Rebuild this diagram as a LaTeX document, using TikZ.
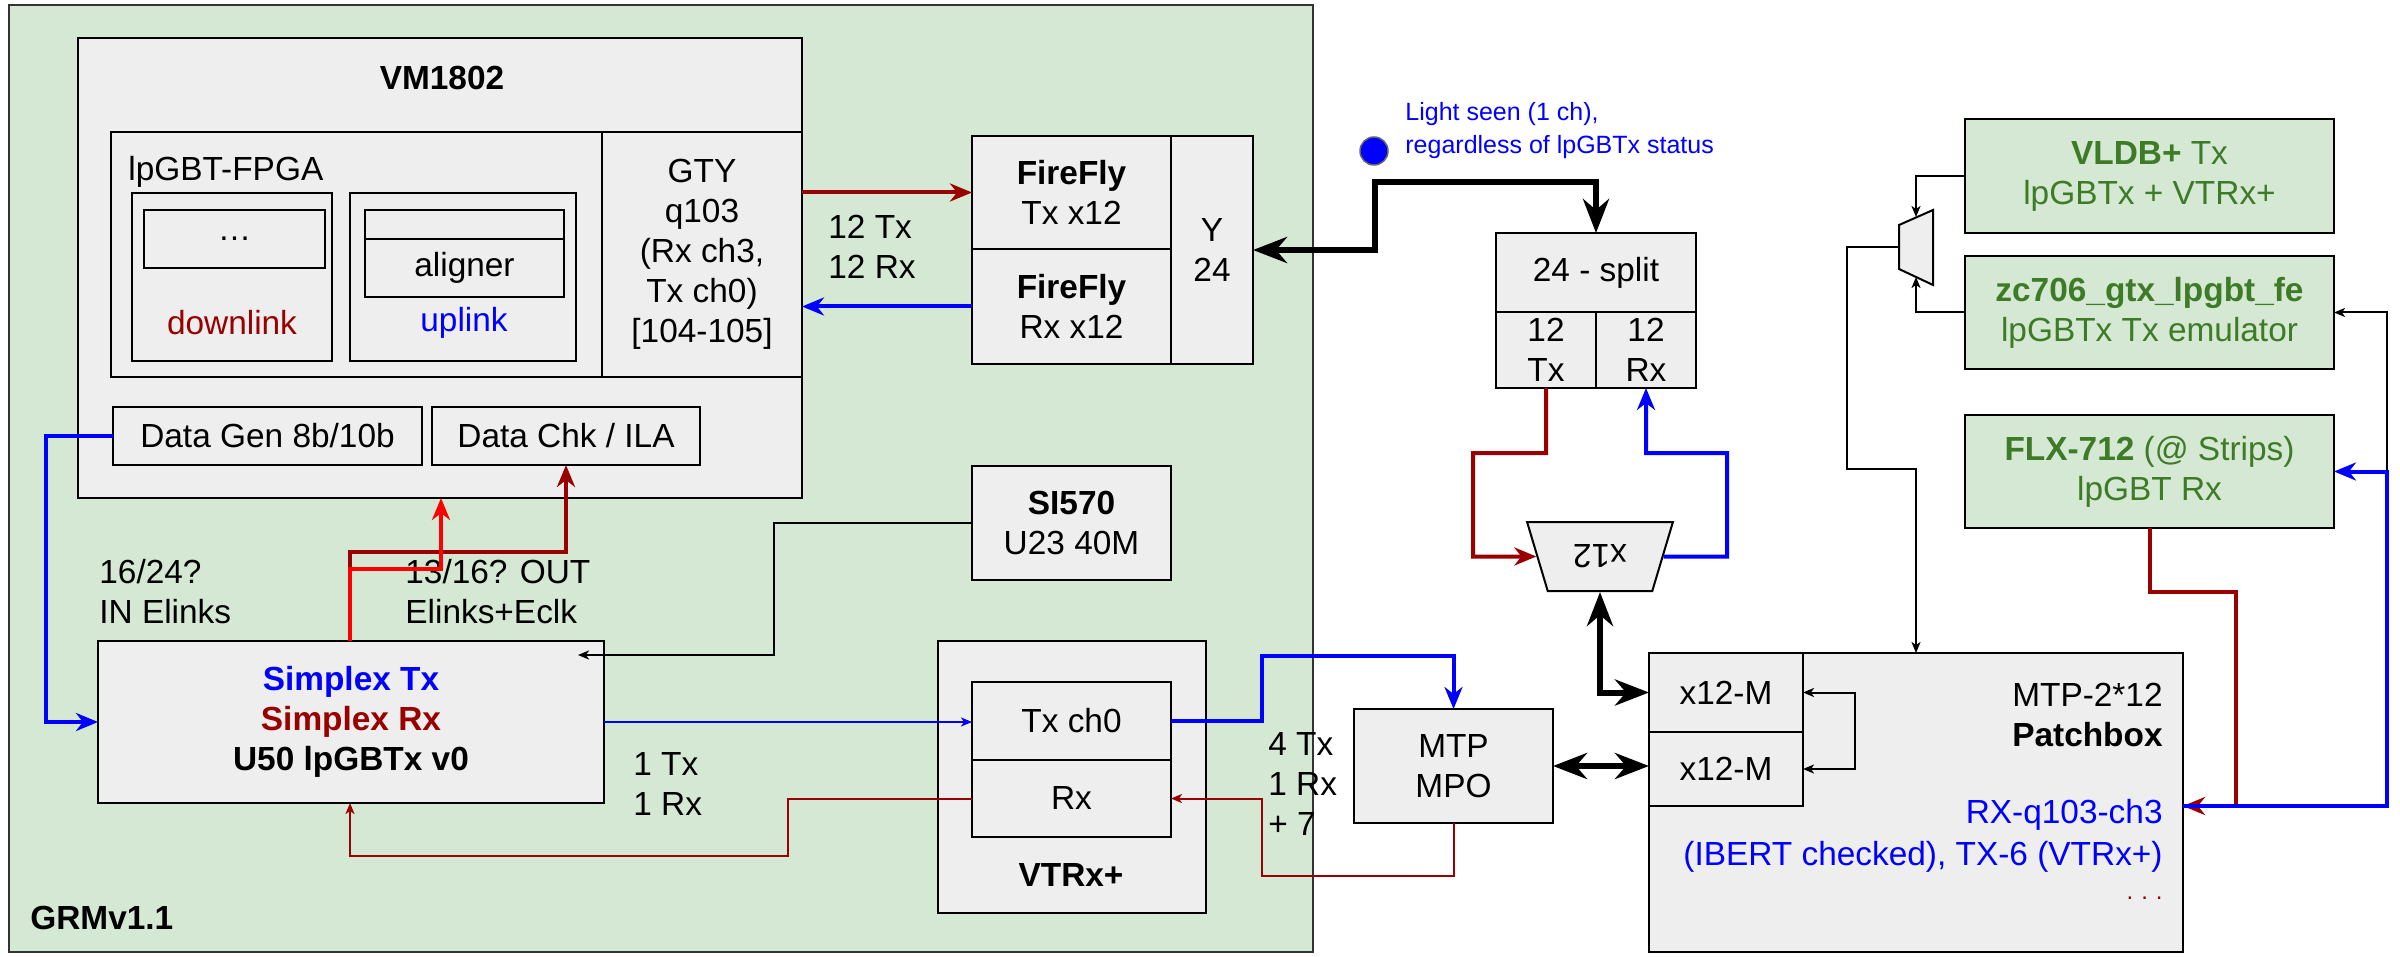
\documentclass[tikz,border=0pt]{standalone}
\usepackage{fontspec}
\setmainfont{Liberation Sans}
\usetikzlibrary{arrows.meta,fit,calc,shapes.geometric}
\definecolor{grmgreen}{HTML}{D5E8D4}
\definecolor{boxgray}{HTML}{EEEEEE}
\definecolor{dred}{HTML}{990000}
\definecolor{bblue}{HTML}{0000FF}
\definecolor{bred}{HTML}{FF0000}
\definecolor{gtext}{HTML}{3E7B27}
\begin{document}
\begin{tikzpicture}[x=0.5pt,y=-0.5pt,
 bx/.style={draw=black, line width=1pt, fill=boxgray, inner sep=0pt, outer sep=0pt},
 gbx/.style={draw=black, line width=1pt, fill=grmgreen, inner sep=0pt, outer sep=0pt},
 txt/.style={font=\fontsize{16.7}{20}\selectfont, align=center, inner sep=0pt},
 smalltxt/.style={font=\fontsize{12.5}{16.5}\selectfont, align=left, inner sep=0pt, text=bblue},
 trap/.style={trapezium, draw=black, line width=1pt, fill=boxgray, trapezium left angle=65.5, trapezium right angle=65.5, trapezium stretches=true, inner sep=0pt},
 lnA/.style={line width=1pt},
 lnB/.style={line width=2pt},
 lnC/.style={line width=3pt},
 arA/.style={-{Stealth[length=5.5pt,width=4.5pt,inset=1.5pt]}},
 arAA/.style={{Stealth[length=5.5pt,width=4.5pt,inset=1.5pt]}-{Stealth[length=5.5pt,width=4.5pt,inset=1.5pt]}},
 arB/.style={-{Stealth[length=11pt,width=9pt,inset=3.5pt]}},
 arCC/.style={{Stealth[length=17pt,width=13pt,inset=5.5pt]}-{Stealth[length=17pt,width=13pt,inset=5.5pt]}},
]
\useasboundingbox (0,0) rectangle (2400,957);

% GRM board
\node[gbx, draw=black!80, fit={(9,5)(1313,952)}] (grm) {};
\node[txt, anchor=west] at (30,918) {\textbf{GRMv1.1}};

% VM1802
\node[bx, fit={(78,38)(802,498)}] (vm) {};
\node[txt] at (442,78) {\textbf{VM1802}};
\node[bx, fit={(111,132)(602,377)}] (fpga) {};
\node[bx, fit={(602,132)(802,377)}] (gty) {};
\node[txt] at (gty.center) {GTY\\q103\\(Rx ch3,\\Tx ch0)\\{[}104-105{]}};
\node[txt, anchor=west] at (128,172) {lpGBT-FPGA};
\node[bx, fit={(132,193)(332,361)}] (dl) {};
\node[bx, fit={(144,210)(325,268)}] (dlin) {};
\node[txt] at (dlin.center) {\ldots};
\node[txt, text=dred] at (232,323) {downlink};
\node[bx, fit={(350,193)(576,361)}] (ul) {};
\node[bx, fit={(365,210)(564,239)}] (ulin) {};
\node[bx, fit={(365,239)(564,297)}] (alg) {};
\node[txt] at (alg.center) {aligner};
\node[txt, text=bblue] at (464,323) {uplink};
\node[bx, fit={(113,407)(422,465)}] (dgen) {};
\node[txt] at (dgen.center) {Data Gen 8b/10b};
\node[bx, fit={(432,407)(700,465)}] (dchk) {};
\node[txt] at (dchk.center) {Data Chk / ILA};

% FireFly
\node[bx, fit={(972,136)(1171,249)}] (fftx) {};
\node[txt] at (fftx.center) {\textbf{FireFly}\\Tx x12};
\node[bx, fit={(972,249)(1171,364)}] (ffrx) {};
\node[txt] at (ffrx.center) {\textbf{FireFly}\\Rx x12};
\node[bx, fit={(1171,136)(1253,364)}] (y24) {};
\node[txt] at (y24.center) {Y\\24};
\node[txt, anchor=west, align=left] at (828,247) {12 Tx\\12 Rx};

% SI570
\node[bx, fit={(972,466)(1171,580)}] (si) {};
\node[txt] at (si.center) {\textbf{SI570}\\U23 40M};

% U50
\node[bx, fit={(98,641)(604,803)}] (u50) {};
\node[txt] at (u50.center) {\textcolor{bblue}{\textbf{Simplex Tx}}\\\textcolor{dred}{\textbf{Simplex Rx}}\\\textbf{U50 lpGBTx v0}};
\node[txt, anchor=west, align=left] at (99,592) {16/24?\\IN Elinks};
\node[txt, anchor=west, align=left] at (405,592) {13/16? OUT\\Elinks+Eclk};
\node[txt, anchor=west, align=left] at (633,784) {1 Tx\\1 Rx};

% VTRx+
\node[bx, fit={(938,641)(1206,913)}] (vtrx) {};
\node[bx, fit={(972,682)(1171,760)}] (txch) {};
\node[txt] at (txch.center) {Tx ch0};
\node[bx, fit={(972,760)(1171,837)}] (rxch) {};
\node[txt] at (rxch.center) {Rx};
\node[txt] at (1071,875) {\textbf{VTRx+}};

% MTP
\node[bx, fit={(1354,709)(1553,823)}] (mtp) {};
\node[txt] at (mtp.center) {MTP\\MPO};
\node[txt, anchor=west, align=left] at (1268,784) {4 Tx\\1 Rx\\+ 7};

% light seen
\node[circle, fill=bblue, draw=black!60, line width=0.75pt, minimum size=14pt, inner sep=0pt] (dot) at (1374,151) {};
\node[smalltxt, anchor=west] at (1405,131) {Light seen (1 ch),\\regardless of lpGBTx status};

% split
\node[bx, fit={(1496,233)(1696,312)}] (split) {};
\node[txt] at (split.center) {24 - split};
\node[bx, fit={(1496,312)(1596,388)}] (stx) {};
\node[txt] at (stx.center) {12\\Tx};
\node[bx, fit={(1596,312)(1696,388)}] (srx) {};
\node[txt] at (srx.center) {12\\Rx};

% x12 trapezoid
\node[trap, minimum width=73pt, minimum height=34.5pt, rotate=180, font=\fontsize{16.7}{20}\selectfont] (tr) at (1600,556.5) {x12};

% Patchbox
\node[bx, fit={(1649,653)(2183,952)}] (pb) {};
\node[bx, fit={(1649,653)(1803,732)}] (xm1) {};
\node[txt] at (xm1.center) {x12-M};
\node[bx, fit={(1649,732)(1803,806)}] (xm2) {};
\node[txt] at (xm2.center) {x12-M};
\node[txt, anchor=east] at (2163,695) {MTP-2*12};
\node[txt, anchor=east] at (2163,735) {\textbf{Patchbox}};
\node[txt, anchor=east, text=bblue] at (2163,815) {RX-q103-ch3};
\node[txt, anchor=east, text=bblue] at (2163,857) {(IBERT checked), TX-6 (VTRx+)};
\node[txt, anchor=east, text=dred, font=\fontsize{12}{14}\selectfont] at (2163,898) {.\,\,.\,\,.};

% green sources
\node[gbx, fit={(1965,119)(2334,233)}] (vldb) {};
\node[txt, text=gtext] at (vldb.center) {\textbf{VLDB+} Tx\\lpGBTx + VTRx+};
\node[gbx, fit={(1965,256)(2334,369)}] (zc) {};
\node[txt, text=gtext] at (zc.center) {\textbf{zc706\_gtx\_lpgbt\_fe}\\lpGBTx Tx emulator};
\node[gbx, fit={(1965,415)(2334,528)}] (flx) {};
\node[txt, text=gtext] at (flx.center) {\textbf{FLX-712} (@ Strips)\\lpGBT Rx};

% mux (frame node + drawn outline)
\node[inner sep=0pt, outer sep=0pt, fit={(1899,210)(1933,285)}] (mux) {};
\draw[line width=1pt, fill=boxgray] ($(mux.north west)+(0,15)$) -- (mux.north east) -- (mux.south east) -- ($(mux.south west)+(0,-16)$) -- cycle;

% helper coordinates
\coordinate (utop) at ($(u50.north west)+(252,0)$);
\coordinate (ubot) at ($(u50.south west)+(252,0)$);
\coordinate (pbr) at (pb.east |- xm2.south);

% connectors
\draw[lnB, dred, arB] (gty.east |- fftx.west) -- (fftx.west);
\draw[lnB, bblue, arB] (ffrx.west) -- (ffrx.west -| gty.east);
\draw[lnC, arCC] (y24.east) -- ++(122,0) |- ($(split.north)+(0,-51)$) -- (split.north);
\draw[lnB, dred, arB] (stx.south) -- ++(0,65) -| ($(tr.center)+(-127,0)$) -- (tr);
\draw[lnB, bblue, arB] (tr) -- ($(tr.center)+(127,0)$) |- ($(srx.south)+(0,65)$) -- (srx.south);
\draw[lnC, arCC] (tr) |- (xm1.west);
\draw[lnC, arCC] (mtp.east) -- (mtp.east -| xm2.west);
\draw[lnA, arAA] (xm1.east) -- ++(52,0) |- (xm2.east);

\draw[lnB, bblue, arB] (dgen.west) -| ($(u50.west)+(-52,0)$) -- (u50.west);
\draw[lnB, dred, arB] (utop) -- ++(0,-89) -| (dchk.south);
\draw[lnB, bred, arB] (utop) -- ++(0,-72) -| ($(vm.south west)+(363,0)$);
\draw[lnA, arA] (si.west) -- ++(-198,0) |- ($(u50.north east)+(-26,14)$);
\draw[lnA, bblue, arA] (u50.east) -- (u50.east -| txch.west);
\draw[lnB, bblue, arB] (txch.east) -- ++(91,0) |- ($(mtp.north)+(0,-53)$) -- (mtp.north);
\draw[lnA, dred, arA] (mtp.south) -- ++(0,53) -| ($(rxch.east)+(91,0)$) -- (rxch.east);
\draw[lnA, dred, arA] (rxch.west) -- ++(-184,0) |- ($(ubot)+(0,53)$) -- (ubot);

\draw[lnA, arA] (vldb.west) -| ($(mux.north)+(0,7)$);
\draw[lnA, arA] (zc.west) -| ($(mux.south)+(0,-8)$);
\draw[lnA, arA] (mux.west) -| ($(mux.west)+(-52,221)$) -| (pb.north -| mux.center);
\draw[lnA, arA] (pbr) -| ($(zc.east)+(53,0)$) -- (zc.east);
\draw[lnB, dred, arB] (flx.south) -- ++(0,64) -| ($(pbr)+(53,0)$) -- (pbr);
\draw[lnB, bblue, arB] (pbr) -| ($(flx.east)+(53,0)$) -- (flx.east);
\end{tikzpicture}
\end{document}
